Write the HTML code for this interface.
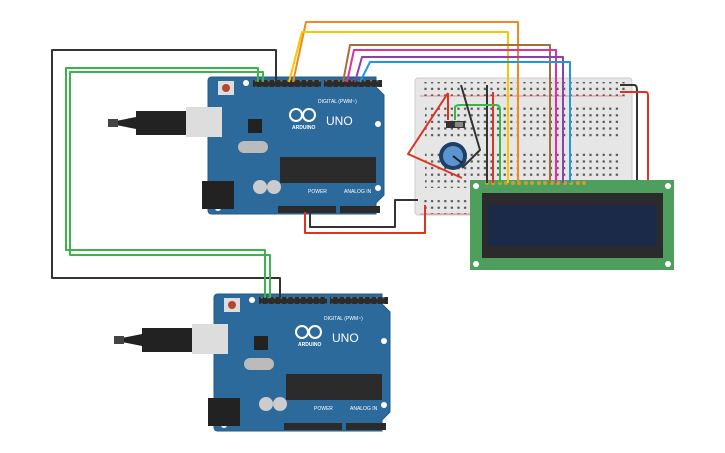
<!DOCTYPE html>
<html><head><style>body{margin:0;background:#fff}svg{display:block}</style></head><body>
<svg width="725" height="453" viewBox="0 0 725 453" xmlns="http://www.w3.org/2000/svg" font-family="Liberation Sans, sans-serif">
<defs>
<pattern id="holes" width="6.6" height="6.6" patternUnits="userSpaceOnUse"><rect x="2" y="2" width="2.2" height="2.2" fill="#555"/></pattern>
<pattern id="pins" width="6.4" height="7" patternUnits="userSpaceOnUse"><rect x="2" y="2.5" width="2" height="2" fill="#777"/></pattern>
<g id="ard">
 <path d="M0 4 Q0 0 4 0 H168 V10 L176 18 V118 L168 126 V137 H4 Q0 137 0 133Z" fill="#2c6a9c" stroke="#245a85"/>
 <rect x="45" y="3" width="68" height="7" fill="#2b2b2b"/><rect x="116" y="3" width="58" height="7" fill="#2b2b2b"/>
 <rect x="45" y="3" width="68" height="7" fill="url(#pins)"/><rect x="116" y="3" width="58" height="7" fill="url(#pins)"/>
 <rect x="70" y="129" width="58" height="7" fill="#2b2b2b"/><rect x="132" y="129" width="40" height="7" fill="#2b2b2b"/>
 <rect x="10" y="4" width="16" height="14" fill="#ddd"/><circle cx="18" cy="11" r="4" fill="#b5452f"/>
 <rect x="40" y="42" width="14" height="14" fill="#222"/>
 <rect x="30" y="64" width="30" height="12" rx="6" fill="#bbb"/>
 <rect x="72" y="80" width="96" height="26" fill="#2b2b2b"/>
 <circle cx="52" cy="110" r="7" fill="#ccc"/><circle cx="66" cy="110" r="7" fill="#ccc"/>
 <circle cx="38" cy="6" r="3" fill="#fff"/><circle cx="170" cy="47" r="3" fill="#fff"/><circle cx="170" cy="111" r="3" fill="#fff"/><circle cx="10" cy="131" r="3" fill="#fff"/>
 <rect x="-6" y="104" width="32" height="28" fill="#222"/>
 <text x="110" y="26" font-size="5" fill="#fff">DIGITAL (PWM~)</text>
 <text x="118" y="48" font-size="12" fill="#fff">UNO</text>
 <text x="84" y="52" font-size="5" fill="#fff" font-weight="bold">ARDUINO</text>
 <circle cx="88" cy="38" r="6" fill="none" stroke="#fff" stroke-width="2"/><circle cx="101" cy="38" r="6" fill="none" stroke="#fff" stroke-width="2"/>
 <text x="100" y="116" font-size="5" fill="#fff">POWER</text><text x="136" y="116" font-size="5" fill="#fff">ANALOG IN</text>
 <rect x="-22" y="30" width="36" height="30" fill="#ddd"/>
 <rect x="-72" y="34" width="50" height="24" fill="#222"/>
 <path d="M-72 40 L-92 44 L-92 48 L-72 52Z" fill="#222"/><rect x="-100" y="42" width="10" height="8" fill="#444"/>
</g>
</defs>
<use href="#ard" x="208" y="77"/>
<use href="#ard" x="214" y="294"/>
<rect x="415" y="78" width="217" height="137" rx="3" fill="#e6e6e6" stroke="#ccc"/>
<rect x="420" y="82" width="205" height="14" fill="url(#holes)"/>
<rect x="420" y="200" width="205" height="14" fill="url(#holes)"/>
<rect x="425" y="104" width="195" height="36" fill="url(#holes)"/>
<rect x="425" y="152" width="195" height="36" fill="url(#holes)"/>
<line x1="420" y1="96" x2="625" y2="96" stroke="#d33" stroke-width="0.6"/>
<line x1="420" y1="214" x2="625" y2="214" stroke="#d33" stroke-width="0.6"/>
<rect x="446" y="121" width="19" height="7" fill="#333"/><rect x="455" y="122" width="8" height="5" fill="#888"/>
<rect x="470" y="180" width="204" height="90" fill="#4e9e5e"/>
<rect x="482" y="193" width="181" height="65" fill="#2b2b2b"/>
<rect x="488" y="205" width="169" height="41" fill="#1c2a4a"/>
<circle cx="476" cy="186" r="3" fill="#fff"/><circle cx="668" cy="186" r="3" fill="#fff"/><circle cx="476" cy="264" r="3" fill="#fff"/><circle cx="668" cy="264" r="3" fill="#fff"/>
<g fill="#c9a227"><circle cx="487" cy="183" r="2"/><circle cx="493" cy="183" r="2"/><circle cx="500" cy="183" r="2"/><circle cx="506" cy="183" r="2"/><circle cx="513" cy="183" r="2"/><circle cx="519" cy="183" r="2"/><circle cx="526" cy="183" r="2"/><circle cx="532" cy="183" r="2"/><circle cx="539" cy="183" r="2"/><circle cx="545" cy="183" r="2"/><circle cx="552" cy="183" r="2"/><circle cx="558" cy="183" r="2"/><circle cx="565" cy="183" r="2"/><circle cx="571" cy="183" r="2"/><circle cx="578" cy="183" r="2"/><circle cx="584" cy="183" r="2"/></g>
<g fill="none" stroke-width="2" stroke-linejoin="round">
<path d="M276 82 V50 H52 V278 H280 V298" stroke="#333"/>
<path d="M258 82 V68 H66 V250 H265 V298" stroke="#3bb54a"/>
<path d="M263 82 V72 H70 V255 H270 V298" stroke="#3bb54a"/>
<path d="M293 82 L306 22 H518 V183" stroke="#f08a1c"/>
<path d="M289 82 L302 32 H508 V183" stroke="#f5c800"/>
<path d="M343 82 L350 45 H550 V183" stroke="#a0703c"/>
<path d="M347 82 L354 50 H556 V183" stroke="#e02fa0"/>
<path d="M355 82 L362 57 H563 V183" stroke="#8e3fb0"/>
<path d="M360 82 L370 62 H570 V183" stroke="#1e9ad6"/>
<path d="M305 212 V233 H425 V205" stroke="#d32"/>
<path d="M310 212 V227 H395 V200 H418" stroke="#333"/>
<path d="M620 85 H634 Q637 85 637 90 V180" stroke="#333"/>
<path d="M620 92 H646 Q648 92 648 96 V180" stroke="#d32"/>
<path d="M487 85 V183" stroke="#333"/><path d="M493 92 V183" stroke="#d32"/>
<path d="M455 120 V108 Q455 105 460 105 H496 Q500 105 500 110 V183" stroke="#3bb54a"/>
<path d="M448 93 V120 M448 93 L408 154 L462 178" stroke="#d32"/>
<path d="M461 85 L480 150 L462 168" stroke="#333"/>
</g>
<circle cx="453" cy="156" r="14" fill="#1e3f66"/><circle cx="453" cy="156" r="10" fill="#5b94cf"/>
<line x1="453" y1="156" x2="462" y2="163" stroke="#222" stroke-width="2"/>
</svg>
</body></html>
